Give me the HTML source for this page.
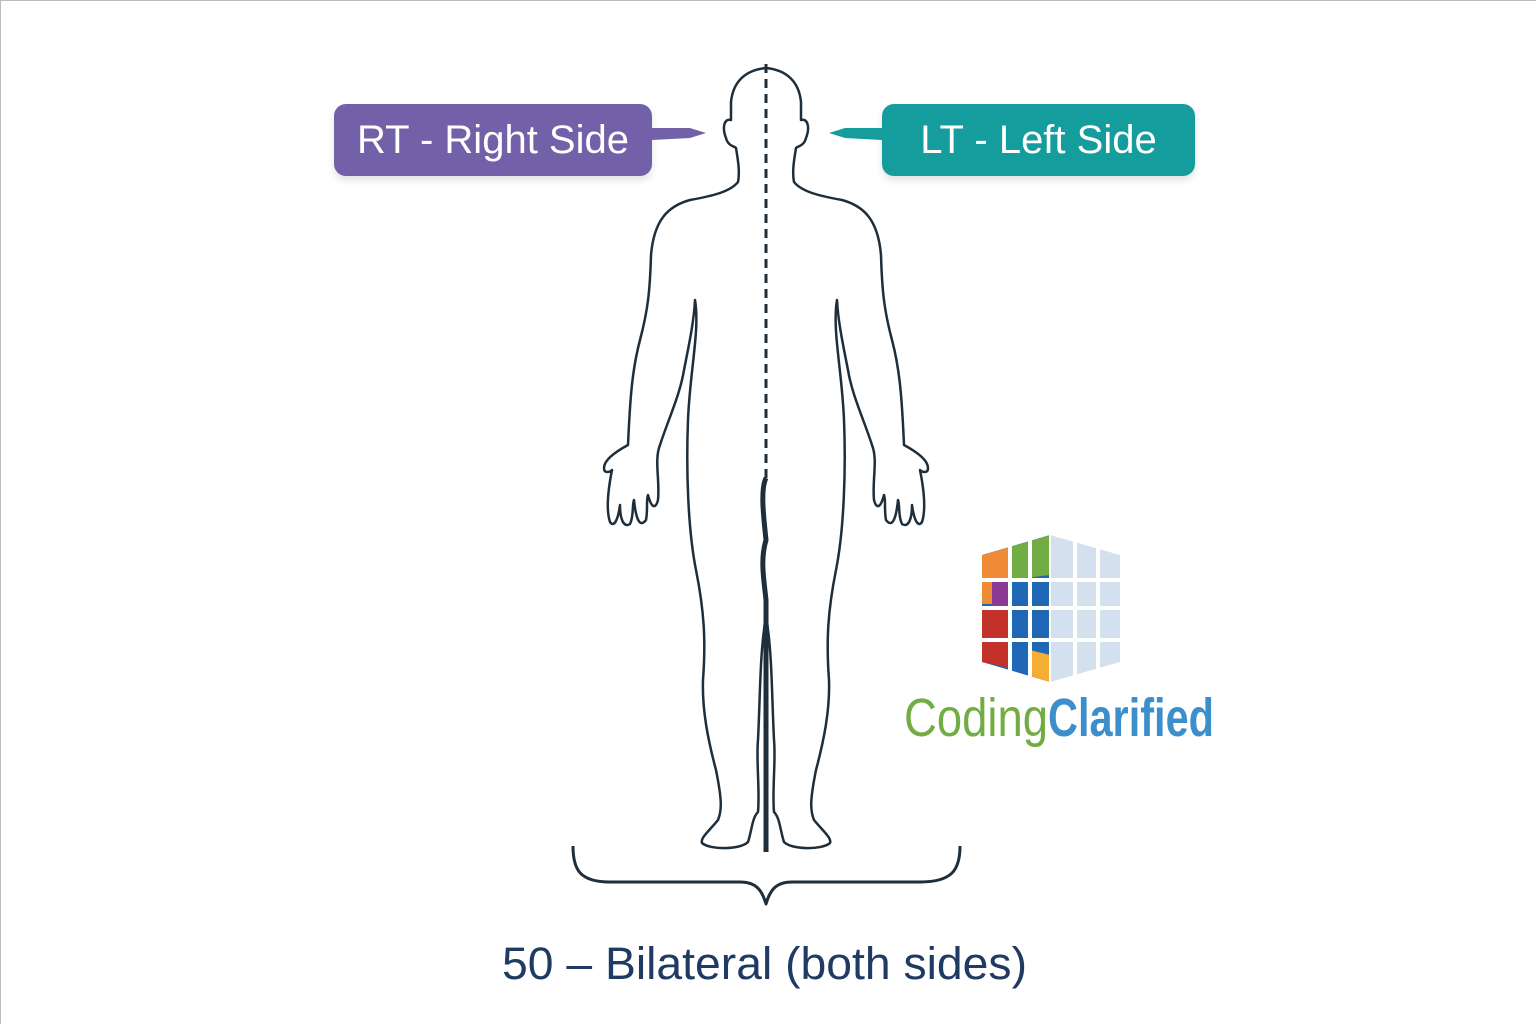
<!DOCTYPE html>
<html><head><meta charset="utf-8"><style>
html,body{margin:0;padding:0;background:#fff;}
body{width:1536px;height:1024px;position:relative;overflow:hidden;font-family:"Liberation Sans",sans-serif;}
.box{position:absolute;color:#fff;font-size:40px;display:flex;align-items:center;justify-content:center;border-radius:12px;box-shadow:0 4px 8px rgba(0,0,0,0.12);}
</style></head><body>
<div style="position:absolute;left:0;top:0;width:1535px;height:1023px;border-left:1px solid #bbb;border-top:1px solid #bbb;"></div>
<div class="box" style="left:334px;top:104px;width:318px;height:72px;background:#7260a8;">RT - Right Side</div>
<div class="box" style="left:882px;top:104px;width:313px;height:72px;background:#159c9c;">LT - Left Side</div>
<svg width="1536" height="1024" style="position:absolute;left:0;top:0">
<path d="M652 128 L690 128 L706 133 L690 138 L652 140 Z" fill="#7260a8"/>
<path d="M882 128 L845 128 L829 133 L845 138 L882 140 Z" fill="#159c9c"/>
<g fill="none" stroke="#1e2e3a" stroke-width="2.5" stroke-linejoin="round">
<path id="h" d="M766 68 C745 70 733 82 731 102 L731 120 C724 118 722 128 726 138 C728 146 734 146 736 148 C738 160 740 172 738 182 C730 192 712 196 690 200 C668 206 654 220 651 255 C650 290 648 310 640 340 C632 370 630 400 628 445 C615 452 604 460 604 468 C604 474 610 472 612 470 C608 490 606 510 610 522 C614 528 618 520 620 505 C620 520 624 528 630 524 C634 516 632 505 634 500 C636 520 640 528 646 520 C648 510 646 500 648 495 C652 510 656 508 658 500 C660 480 654 460 660 445 C668 420 680 395 684 370 C690 340 694 320 695 300 C700 330 690 370 688 420 C686 470 688 530 696 570 C704 610 706 640 703 680 C702 710 708 740 716 770 C722 800 722 810 718 820 C710 830 700 838 702 843 C710 850 740 850 748 842 C752 830 752 818 758 812 C760 790 756 760 758 740 C760 700 760 660 764 630 L766 612"/>
<use href="#h" transform="translate(1532,0) scale(-1,1)"/>
<path d="M766 64 L766 478" stroke-dasharray="9 6" stroke-width="3"/>
<path d="M766 478 C760 490 764 520 766 540 C760 560 764 580 766 600 L766 852" stroke-width="5"/>
<path d="M573 846 C573 870 580 882 610 882 L740 882 C756 882 762 890 766 904 C770 890 776 882 792 882 L920 882 C952 882 960 870 960 846" stroke-width="3"/>
</g>
<g>
<path d="M982 555 L1050 535 L1050 682 L982 662 Z" fill="#1f68b5"/>
<path d="M982 555 L1010 547 L1010 604 L982 604 Z" fill="#ef8a35"/>
<path d="M1010 547 L1050 535 L1050 575 L1010 580 Z" fill="#72ad43"/>
<path d="M992 580 L1010 580 L1010 640 L992 640 Z" fill="#8a3a92"/>
<path d="M982 608 L1010 608 L1010 668 L982 662 Z" fill="#c3312b"/>
<path d="M1030 650 L1050 655 L1050 682 L1030 676 Z" fill="#f5ae33"/>
<path d="M1050 535 L1120 555 L1120 662 L1050 682 Z" fill="#d4e0ee"/>
<g stroke="#fff" stroke-width="4"><line x1="982" y1="580" x2="1120" y2="580"/><line x1="982" y1="608" x2="1120" y2="608"/><line x1="982" y1="640" x2="1120" y2="640"/><line x1="1010" y1="540" x2="1010" y2="680"/><line x1="1030" y1="540" x2="1030" y2="680"/><line x1="1075" y1="540" x2="1075" y2="680"/><line x1="1098" y1="540" x2="1098" y2="680"/><line x1="1050" y1="535" x2="1050" y2="682" stroke-width="2"/></g>
</g>
<text x="904" y="736" font-family="Liberation Sans Narrow, Liberation Sans, sans-serif" font-size="54" fill="#72ad43" textLength="144" lengthAdjust="spacingAndGlyphs">Coding</text>
<text x="1048" y="736" font-family="Liberation Sans Narrow, Liberation Sans, sans-serif" font-weight="bold" font-size="54" fill="#3d8fcc" textLength="166" lengthAdjust="spacingAndGlyphs">Clarified</text>
<text x="502" y="979" font-family="Liberation Sans, sans-serif" font-size="45" fill="#1f3a63" textLength="525" lengthAdjust="spacingAndGlyphs">50 – Bilateral (both sides)</text>
</svg>
</body></html>
